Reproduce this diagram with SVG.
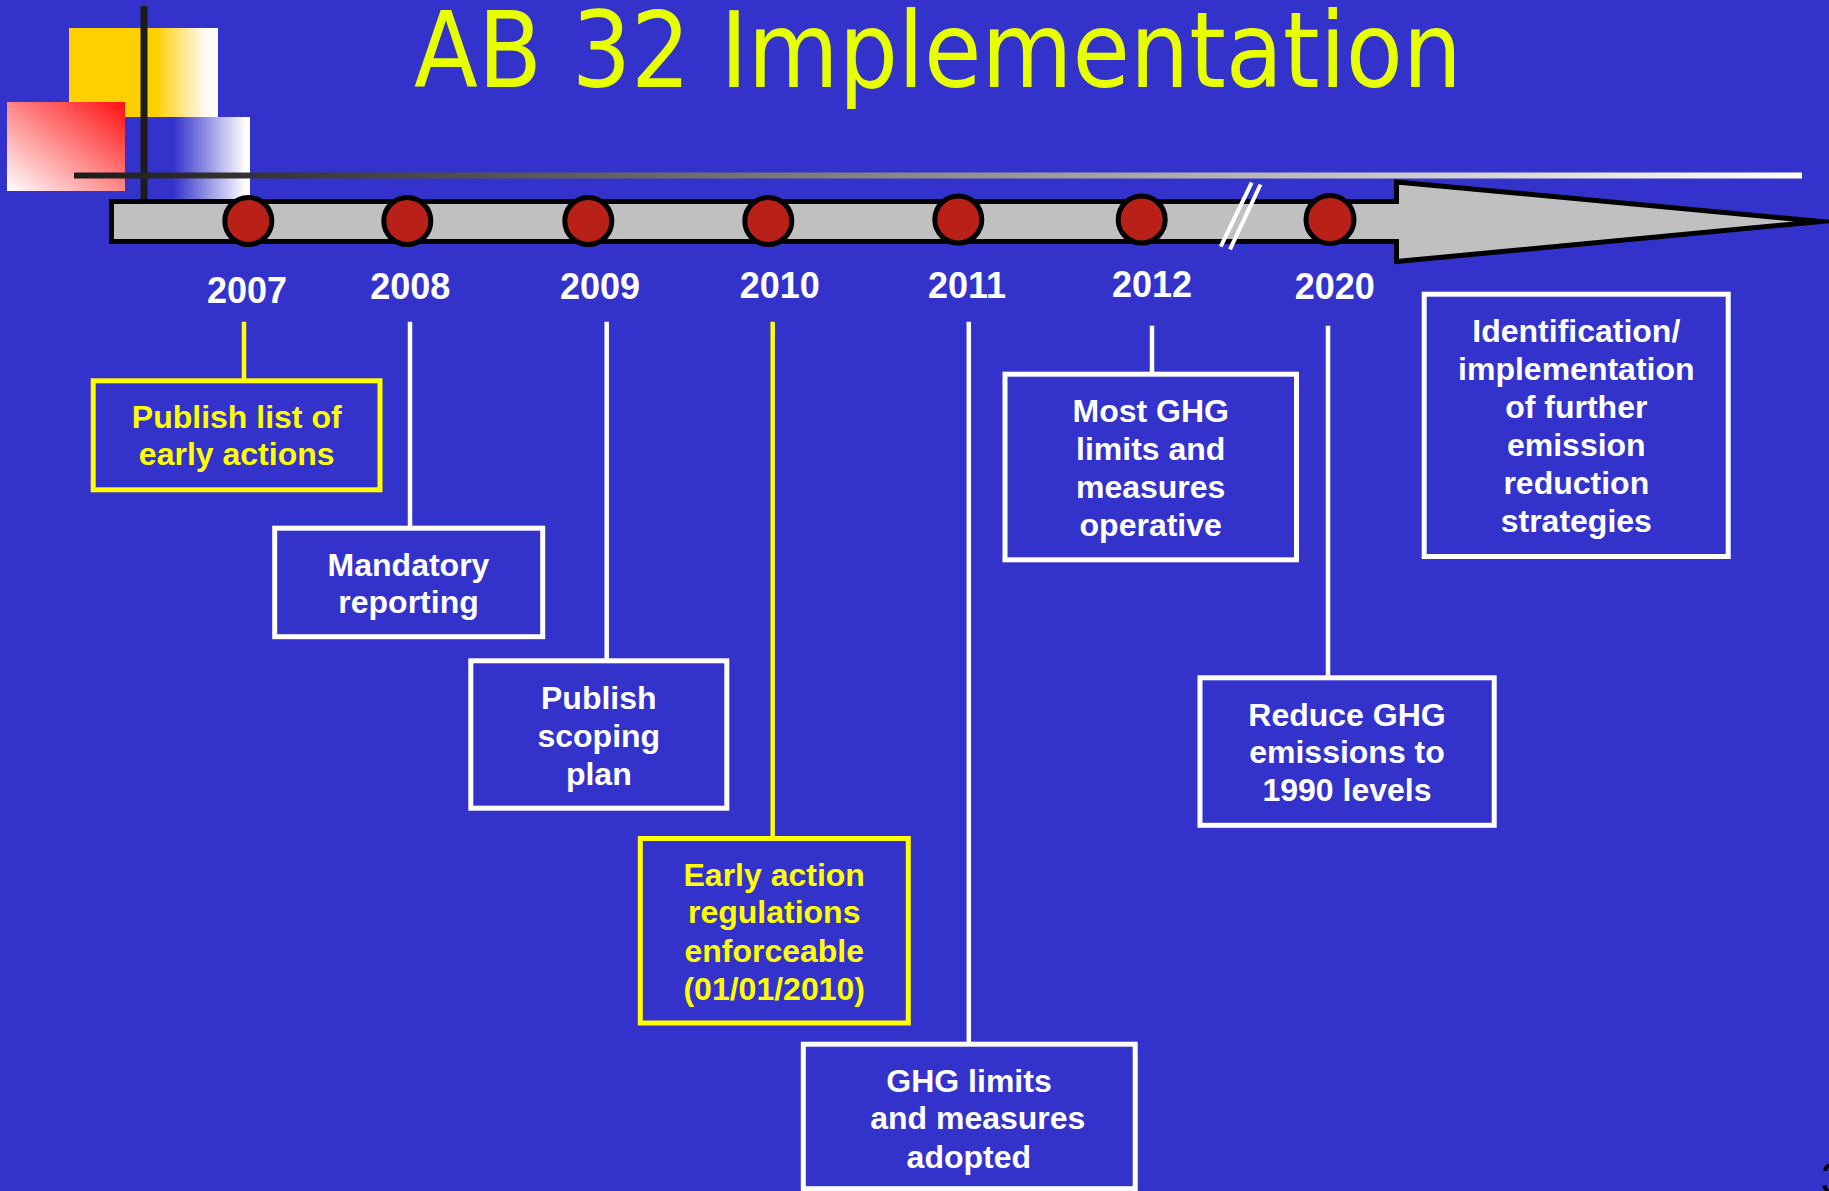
<svg xmlns="http://www.w3.org/2000/svg" width="1829" height="1191" viewBox="0 0 1829 1191">
<defs>
<linearGradient id="gYellow" x1="0" y1="0" x2="1" y2="0">
<stop offset="0" stop-color="#FFCF00"/>
<stop offset="0.58" stop-color="#FFCF00"/>
<stop offset="0.9" stop-color="#FFF8EC"/>
<stop offset="1" stop-color="#FFFFFF"/>
</linearGradient>
<linearGradient id="gRed" x1="1" y1="0" x2="0" y2="1">
<stop offset="0" stop-color="#FF1010"/>
<stop offset="1" stop-color="#FFFFFF"/>
</linearGradient>
<linearGradient id="gBlue" x1="0" y1="0" x2="1" y2="0">
<stop offset="0" stop-color="#3333CC"/>
<stop offset="0.15" stop-color="#3333CC"/>
<stop offset="0.95" stop-color="#FFFFFF"/>
<stop offset="1" stop-color="#FFFFFF"/>
</linearGradient>
<linearGradient id="gLine" gradientUnits="userSpaceOnUse" x1="74" y1="0" x2="1802" y2="0">
<stop offset="0" stop-color="#1C1C1C"/>
<stop offset="1" stop-color="#FFFFFF"/>
</linearGradient>
</defs>
<style>
.lbl{font-family:"Liberation Sans",Arial,sans-serif;font-weight:bold;font-size:32px;fill:#FFFFFF;text-anchor:middle}
.ylbl{fill:#FFFF00}
.yr{font-family:"Liberation Sans",Arial,sans-serif;font-weight:bold;font-size:36px;fill:#FFFFFF;text-anchor:middle}
.box{fill:none;stroke:#FFFFFF;stroke-width:5}
.ybox{fill:none;stroke:#FFFF00;stroke-width:5}
.dot{fill:#B82018;stroke:#000000;stroke-width:5}
.con{stroke:#FFFFFF;stroke-width:4.5;fill:none}
.ycon{stroke:#FFFF00;stroke-width:4.5;fill:none}
</style>
<rect x="0" y="0" width="1829" height="1191" fill="#3333CC"/>

<g id="decoration">
<rect x="69" y="28" width="149" height="89" fill="url(#gYellow)"/>
<rect x="7" y="102" width="118" height="89" fill="url(#gRed)"/>
<rect x="160" y="117" width="90" height="82" fill="url(#gBlue)"/>
<line x1="144" y1="6" x2="144" y2="200" stroke="#1C1C1C" stroke-width="7"/>
<line x1="74" y1="175.5" x2="1802" y2="175.5" stroke="url(#gLine)" stroke-width="6"/>
</g>

<g id="title">
<text x="414" y="87" font-family="'DejaVu Sans',Verdana,sans-serif" font-size="105" fill="#E8FF00" textLength="1048" lengthAdjust="spacingAndGlyphs">AB 32 Implementation</text>
</g>

<g id="timeline">
<path d="M111.5,201.5 L1396.5,201.5 L1396.5,182 L1821,221.5 L1396.5,261.5 L1396.5,241.5 L111.5,241.5 Z" fill="#C0C0C0" stroke="#000000" stroke-width="5" stroke-linejoin="miter" stroke-miterlimit="12"/>
<line x1="1251.7" y1="182.7" x2="1220.7" y2="246.7" stroke="#FFFFFF" stroke-width="4"/>
<line x1="1260.5" y1="184.5" x2="1230" y2="249.3" stroke="#FFFFFF" stroke-width="4"/>
</g>

<g id="connectors">
<line class="ycon" x1="244" y1="321.7" x2="244" y2="381"/>
<line class="con" x1="410" y1="321.7" x2="410" y2="528"/>
<line class="con" x1="606.7" y1="321.7" x2="606.7" y2="661"/>
<line class="ycon" x1="772.7" y1="321.7" x2="772.7" y2="838.5"/>
<line class="con" x1="968.8" y1="321.7" x2="968.8" y2="1044"/>
<line class="con" x1="1152" y1="325.7" x2="1152" y2="374"/>
<line class="con" x1="1328" y1="325.7" x2="1328" y2="678"/>
</g>

<g id="y2007"><circle class="dot" cx="248.3" cy="221" r="23.5"/><text class="yr" x="247" y="302.7">2007</text></g>
<g id="y2008"><circle class="dot" cx="407.3" cy="221" r="23.5"/><text class="yr" x="410.3" y="299.3">2008</text></g>
<g id="y2009"><circle class="dot" cx="588.3" cy="221" r="23.5"/><text class="yr" x="600" y="299.3">2009</text></g>
<g id="y2010"><circle class="dot" cx="768.3" cy="221" r="23.5"/><text class="yr" x="779.7" y="298.3">2010</text></g>
<g id="y2011"><circle class="dot" cx="958.3" cy="219.5" r="23.5"/><text class="yr" x="967" y="298.3">2011</text></g>
<g id="y2012"><circle class="dot" cx="1141.7" cy="219.5" r="23.5"/><text class="yr" x="1152" y="297.3">2012</text></g>
<g id="y2020"><circle class="dot" cx="1330" cy="219.5" r="24"/><text class="yr" x="1334.7" y="299">2020</text></g>

<g id="n-early-list">
<rect class="ybox" x="93.2" y="380.8" width="286.8" height="109"/>
<text class="lbl ylbl" x="236.7" y="427.7">Publish list of</text>
<text class="lbl ylbl" x="236.7" y="465">early actions</text>
</g>

<g id="n-mandatory">
<rect class="box" x="274.7" y="528.2" width="268" height="108.5"/>
<text class="lbl" x="408.5" y="575.7">Mandatory</text>
<text class="lbl" x="408.5" y="613.3">reporting</text>
</g>

<g id="n-scoping">
<rect class="box" x="470.8" y="660.8" width="256" height="147.4"/>
<text class="lbl" x="598.8" y="709">Publish</text>
<text class="lbl" x="598.8" y="746.7">scoping</text>
<text class="lbl" x="598.8" y="785">plan</text>
</g>

<g id="n-early-regs">
<rect class="ybox" x="640.3" y="838.5" width="268" height="184.5"/>
<text class="lbl ylbl" x="774.2" y="885.7">Early action</text>
<text class="lbl ylbl" x="774.2" y="923.3">regulations</text>
<text class="lbl ylbl" x="774.2" y="961.7">enforceable</text>
<text class="lbl ylbl" x="774.2" y="1000">(01/01/2010)</text>
</g>

<g id="n-adopted">
<rect class="box" x="803.3" y="1044.2" width="331.9" height="144.5"/>
<text class="lbl" x="969" y="1091.7">GHG limits</text>
<text class="lbl" x="977.8" y="1129.3">and measures</text>
<text class="lbl" x="968.8" y="1167.7">adopted</text>
</g>

<g id="n-operative">
<rect class="box" x="1005" y="374.2" width="291.5" height="185.6"/>
<text class="lbl" x="1150.7" y="421.7">Most GHG</text>
<text class="lbl" x="1150.7" y="460">limits and</text>
<text class="lbl" x="1150.7" y="497.7">measures</text>
<text class="lbl" x="1150.7" y="536">operative</text>
</g>

<g id="n-1990">
<rect class="box" x="1200" y="677.8" width="294.2" height="147.5"/>
<text class="lbl" x="1347" y="725.7">Reduce GHG</text>
<text class="lbl" x="1347" y="763.3">emissions to</text>
<text class="lbl" x="1347" y="800.7">1990 levels</text>
</g>

<g id="n-further">
<rect class="box" x="1424.2" y="294.2" width="304" height="262.3"/>
<text class="lbl" x="1576.3" y="341.7">Identification/</text>
<text class="lbl" x="1576.3" y="380">implementation</text>
<text class="lbl" x="1576.3" y="417.7">of further</text>
<text class="lbl" x="1576.3" y="456">emission</text>
<text class="lbl" x="1576.3" y="494.3">reduction</text>
<text class="lbl" x="1576.3" y="531.7">strategies</text>
</g>

<g id="page-number">
<text x="1821" y="1194" font-family="'Liberation Sans',Arial,sans-serif" font-size="44" fill="#000000">3</text>
</g>
</svg>
